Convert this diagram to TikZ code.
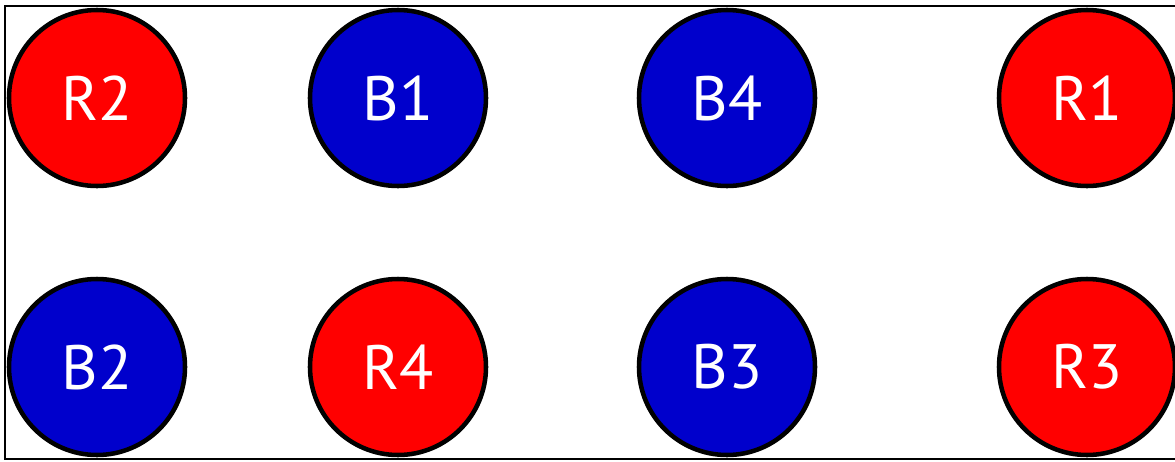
\documentclass[tikz,border=0pt]{standalone}
\usepackage{fontspec}
\setmainfont{PT Sans}
\definecolor{cred}{RGB}{255,0,0}
\definecolor{cblue}{RGB}{0,0,204}
\begin{document}
\begin{tikzpicture}[x=0.75pt,y=-0.75pt,
  disc/.style={circle,draw=black,line width=3.4pt,minimum size=176*0.75pt,inner sep=0pt,
    text=white,font=\fontsize{47}{50}\selectfont},
  rdisc/.style={disc,fill=cred},
  bdisc/.style={disc,fill=cblue}]
\useasboundingbox (0,0) rectangle (1175,461);
\draw[line width=2pt] (1180,6) -- (5,6) -- (5,459) -- (1180,459);
\node[rdisc] (R2) at (97,98) {R2};
\node[bdisc] (B1) at (398,98) {B1};
\node[bdisc] (B4) at (727,98) {B4};
\node[rdisc] (R1) at (1087,98) {R1};
\node[bdisc] (B2) at (97,367) {B2};
\node[rdisc] (R4) at (398,367) {R4};
\node[bdisc] (B3) at (727,367) {B3};
\node[rdisc] (R3) at (1087,367) {R3};
\end{tikzpicture}
\end{document}
